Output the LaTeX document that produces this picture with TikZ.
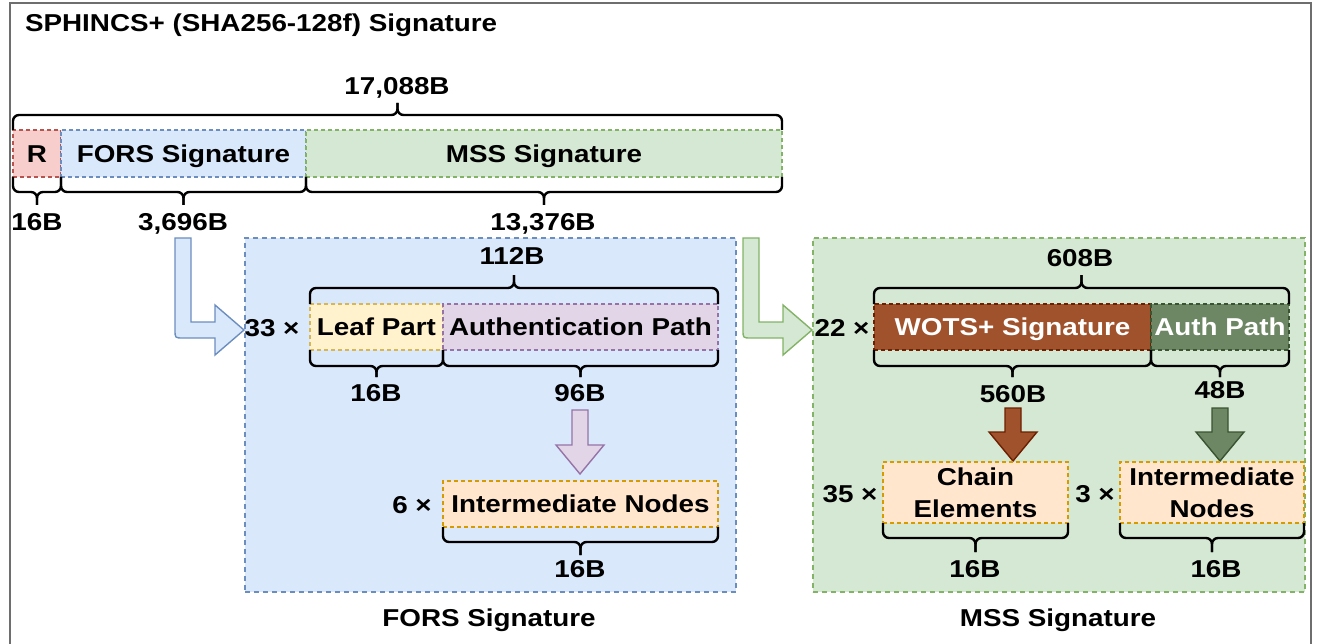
\documentclass[tikz,border=0pt]{standalone}
\usepackage{fontspec}
\setmainfont{Liberation Sans}[FakeStretch=1.14]
\usetikzlibrary{calc}

\definecolor{redfill}{HTML}{F8CECC}    \definecolor{redline}{HTML}{B85450}
\definecolor{bluefill}{HTML}{DAE8FC}   \definecolor{blueline}{HTML}{6C8EBF}
\definecolor{greenfill}{HTML}{D5E8D4}  \definecolor{greenline}{HTML}{82B366}
\definecolor{yellowfill}{HTML}{FFF2CC} \definecolor{yellowline}{HTML}{D6B656}
\definecolor{purplefill}{HTML}{E1D5E7} \definecolor{purpleline}{HTML}{9673A6}
\definecolor{peachfill}{HTML}{FFE6CC}  \definecolor{peachline}{HTML}{D79B00}
\definecolor{rustfill}{HTML}{A0522D}   \definecolor{rustline}{HTML}{6D1F00}
\definecolor{olivefill}{HTML}{6D8764}  \definecolor{oliveline}{HTML}{3A5431}
\definecolor{framegray}{HTML}{6E6E6E}

% curly brace over the span #1..#2 (same height): #3 = offset to the bar, #4 = tip length
\newcommand\bracespan[4]{%
  \draw[brc] (#1) -- ++(0,#3) -- ($(#1)!0.5!(#2)+(0,#3)$) -- ++(0,#4);
  \draw[brc] (#2) -- ++(0,#3) -- ($(#1)!0.5!(#2)+(0,#3)$) -- ++(0,#4);
}

\begin{document}
\begin{tikzpicture}[x=1pt,y=-1pt,
  font=\fontsize{24.4}{27}\selectfont\bfseries,
  lbl/.style={inner sep=0pt, outer sep=0pt, anchor=base},
  cell/.style={draw, dash pattern=on 4pt off 3pt, line width=1.1pt,
               inner sep=0pt, outer sep=0pt, anchor=north west},
  oneline/.style={text height=17.4pt, text depth=0pt},
  twoline/.style={align=center, font=\fontsize{24.4}{32}\selectfont\bfseries},
  panel/.style={draw, dash pattern=on 5pt off 4pt, line width=1.1pt,
                inner sep=0pt, outer sep=0pt, anchor=north west},
  brc/.style={draw=black, line width=2.4pt, rounded corners=6pt},
  blk/.style={line width=1.4pt, line join=miter}
]
\useasboundingbox (0,0) rectangle (1319,644);

% outer frame
\draw[framegray, line width=2pt] (10,660) -- (10,3) -- (1311,3) -- (1311,660);

\node[lbl, anchor=base west] (title) at (25,32) {SPHINCS+ (SHA256-128f) Signature};

% ---- signature layout bar ----
\node[cell, oneline, draw=redline, fill=redfill, minimum width=48, minimum height=47] (r) at (13,130) {R};
\node[cell, oneline, draw=blueline, fill=bluefill, minimum width=245, minimum height=47] (fors) at (61,130) {FORS Signature};
\node[cell, oneline, draw=greenline, fill=greenfill, minimum width=476, minimum height=47] (mss) at (306,130) {MSS Signature};

\bracespan{r.north west}{mss.north east}{-15}{-12}
\bracespan{r.south west}{r.south east}{15}{13}
\bracespan{fors.south west}{fors.south east}{15}{13}
\bracespan{mss.south west}{mss.south east}{15}{13}

\node[lbl] (total) at (397,95) {17,088B};
\node[lbl] (sizer) at (37,231) {16B};
\node[lbl] (sizefors) at (183,231) {3,696B};
\node[lbl] (sizemss) at (543,231) {13,376B};

% ---- detail panels ----
\node[panel, draw=blueline, fill=bluefill, minimum width=491, minimum height=354] (forspanel) at (245,238) {};
\node[panel, draw=greenline, fill=greenfill, minimum width=492, minimum height=354] (msspanel) at (813,238) {};

\node[lbl] (forstitle) at (489,626) {FORS Signature};
\node[lbl] (msstitle) at (1058,626) {MSS Signature};

% bent block arrows from the bar into the panels
\draw[blk, draw=blueline, fill=bluefill]
  (175,238) -- (191,238) -- (191,322) -- (215,322) -- (215,305) -- (244,330)
  -- (215,355) -- (215,338) -- (183,338) .. controls (175,338) .. (175,330) -- cycle;
\draw[blk, draw=greenline, fill=greenfill]
  (743,238) -- (759,238) -- (759,322) -- (783,322) -- (783,305) -- (812,330)
  -- (783,355) -- (783,338) -- (751,338) .. controls (743,338) .. (743,330) -- cycle;

% ---- FORS panel ----
\node[lbl] (nfors) at (272,336) {33 ×};
\node[cell, oneline, draw=yellowline, fill=yellowfill, minimum width=133, minimum height=46] (leaf) at (310,304) {Leaf Part};
\node[cell, oneline, draw=purpleline, fill=purplefill, minimum width=275, minimum height=46] (authp) at (443,304) {Authentication Path};
\bracespan{leaf.north west}{authp.north east}{-16}{-13}
\bracespan{leaf.south west}{leaf.south east}{16}{11}
\bracespan{authp.south west}{authp.south east}{16}{11}
\node[lbl] (sizetree) at (512,265) {112B};
\node[lbl] (sizeleaf) at (376,401) {16B};
\node[lbl] (sizeauth) at (580,401) {96B};

\draw[blk, draw=purpleline, fill=purplefill]
  (572,410) -- (588,410) -- (588,445) -- (604,445) -- (580,474) -- (556,445) -- (572,445) -- cycle;

\node[lbl] (nfint) at (412,513) {6 ×};
\node[cell, oneline, draw=peachline, fill=peachfill, minimum width=275, minimum height=46] (fint) at (443,481) {Intermediate Nodes};
\bracespan{fint.south west}{fint.south east}{15}{13}
\node[lbl] (sizefint) at (580,577) {16B};

% ---- MSS panel ----
\node[lbl] (nmss) at (842,336) {22 ×};
\node[cell, oneline, draw=rustline, fill=rustfill, text=white, minimum width=277, minimum height=46] (wots) at (874,304) {WOTS+ Signature};
\node[cell, oneline, draw=oliveline, fill=olivefill, text=white, minimum width=138, minimum height=46] (mauth) at (1151,304) {Auth Path};
\bracespan{wots.north west}{mauth.north east}{-16}{-13}
\bracespan{wots.south west}{wots.south east}{16}{11}
\bracespan{mauth.south west}{mauth.south east}{16}{11}
\node[lbl] (sizelayer) at (1080,266) {608B};
\node[lbl] (sizewots) at (1013,402) {560B};
\node[lbl] (sizemauth) at (1220,398) {48B};

\draw[blk, draw=rustline, fill=rustfill]
  (1005,408) -- (1021,408) -- (1021,432) -- (1037,432) -- (1013,461) -- (989,432) -- (1005,432) -- cycle;
\draw[blk, draw=oliveline, fill=olivefill]
  (1212,408) -- (1228,408) -- (1228,432) -- (1244,432) -- (1220,461) -- (1196,432) -- (1212,432) -- cycle;

\node[lbl] (nchain) at (850,502) {35 ×};
\node[cell, twoline, draw=peachline, fill=peachfill, minimum width=185, minimum height=61] (chain) at (883,462) {Chain\\Elements};
\node[lbl] (nmint) at (1095,502) {3 ×};
\node[cell, twoline, draw=peachline, fill=peachfill, minimum width=184, minimum height=61] (mint) at (1120,462) {Intermediate\\Nodes};
\bracespan{chain.south west}{chain.south east}{15}{14}
\bracespan{mint.south west}{mint.south east}{15}{14}
\node[lbl] (sizechain) at (975,577) {16B};
\node[lbl] (sizemint) at (1216,577) {16B};

\end{tikzpicture}
\end{document}
